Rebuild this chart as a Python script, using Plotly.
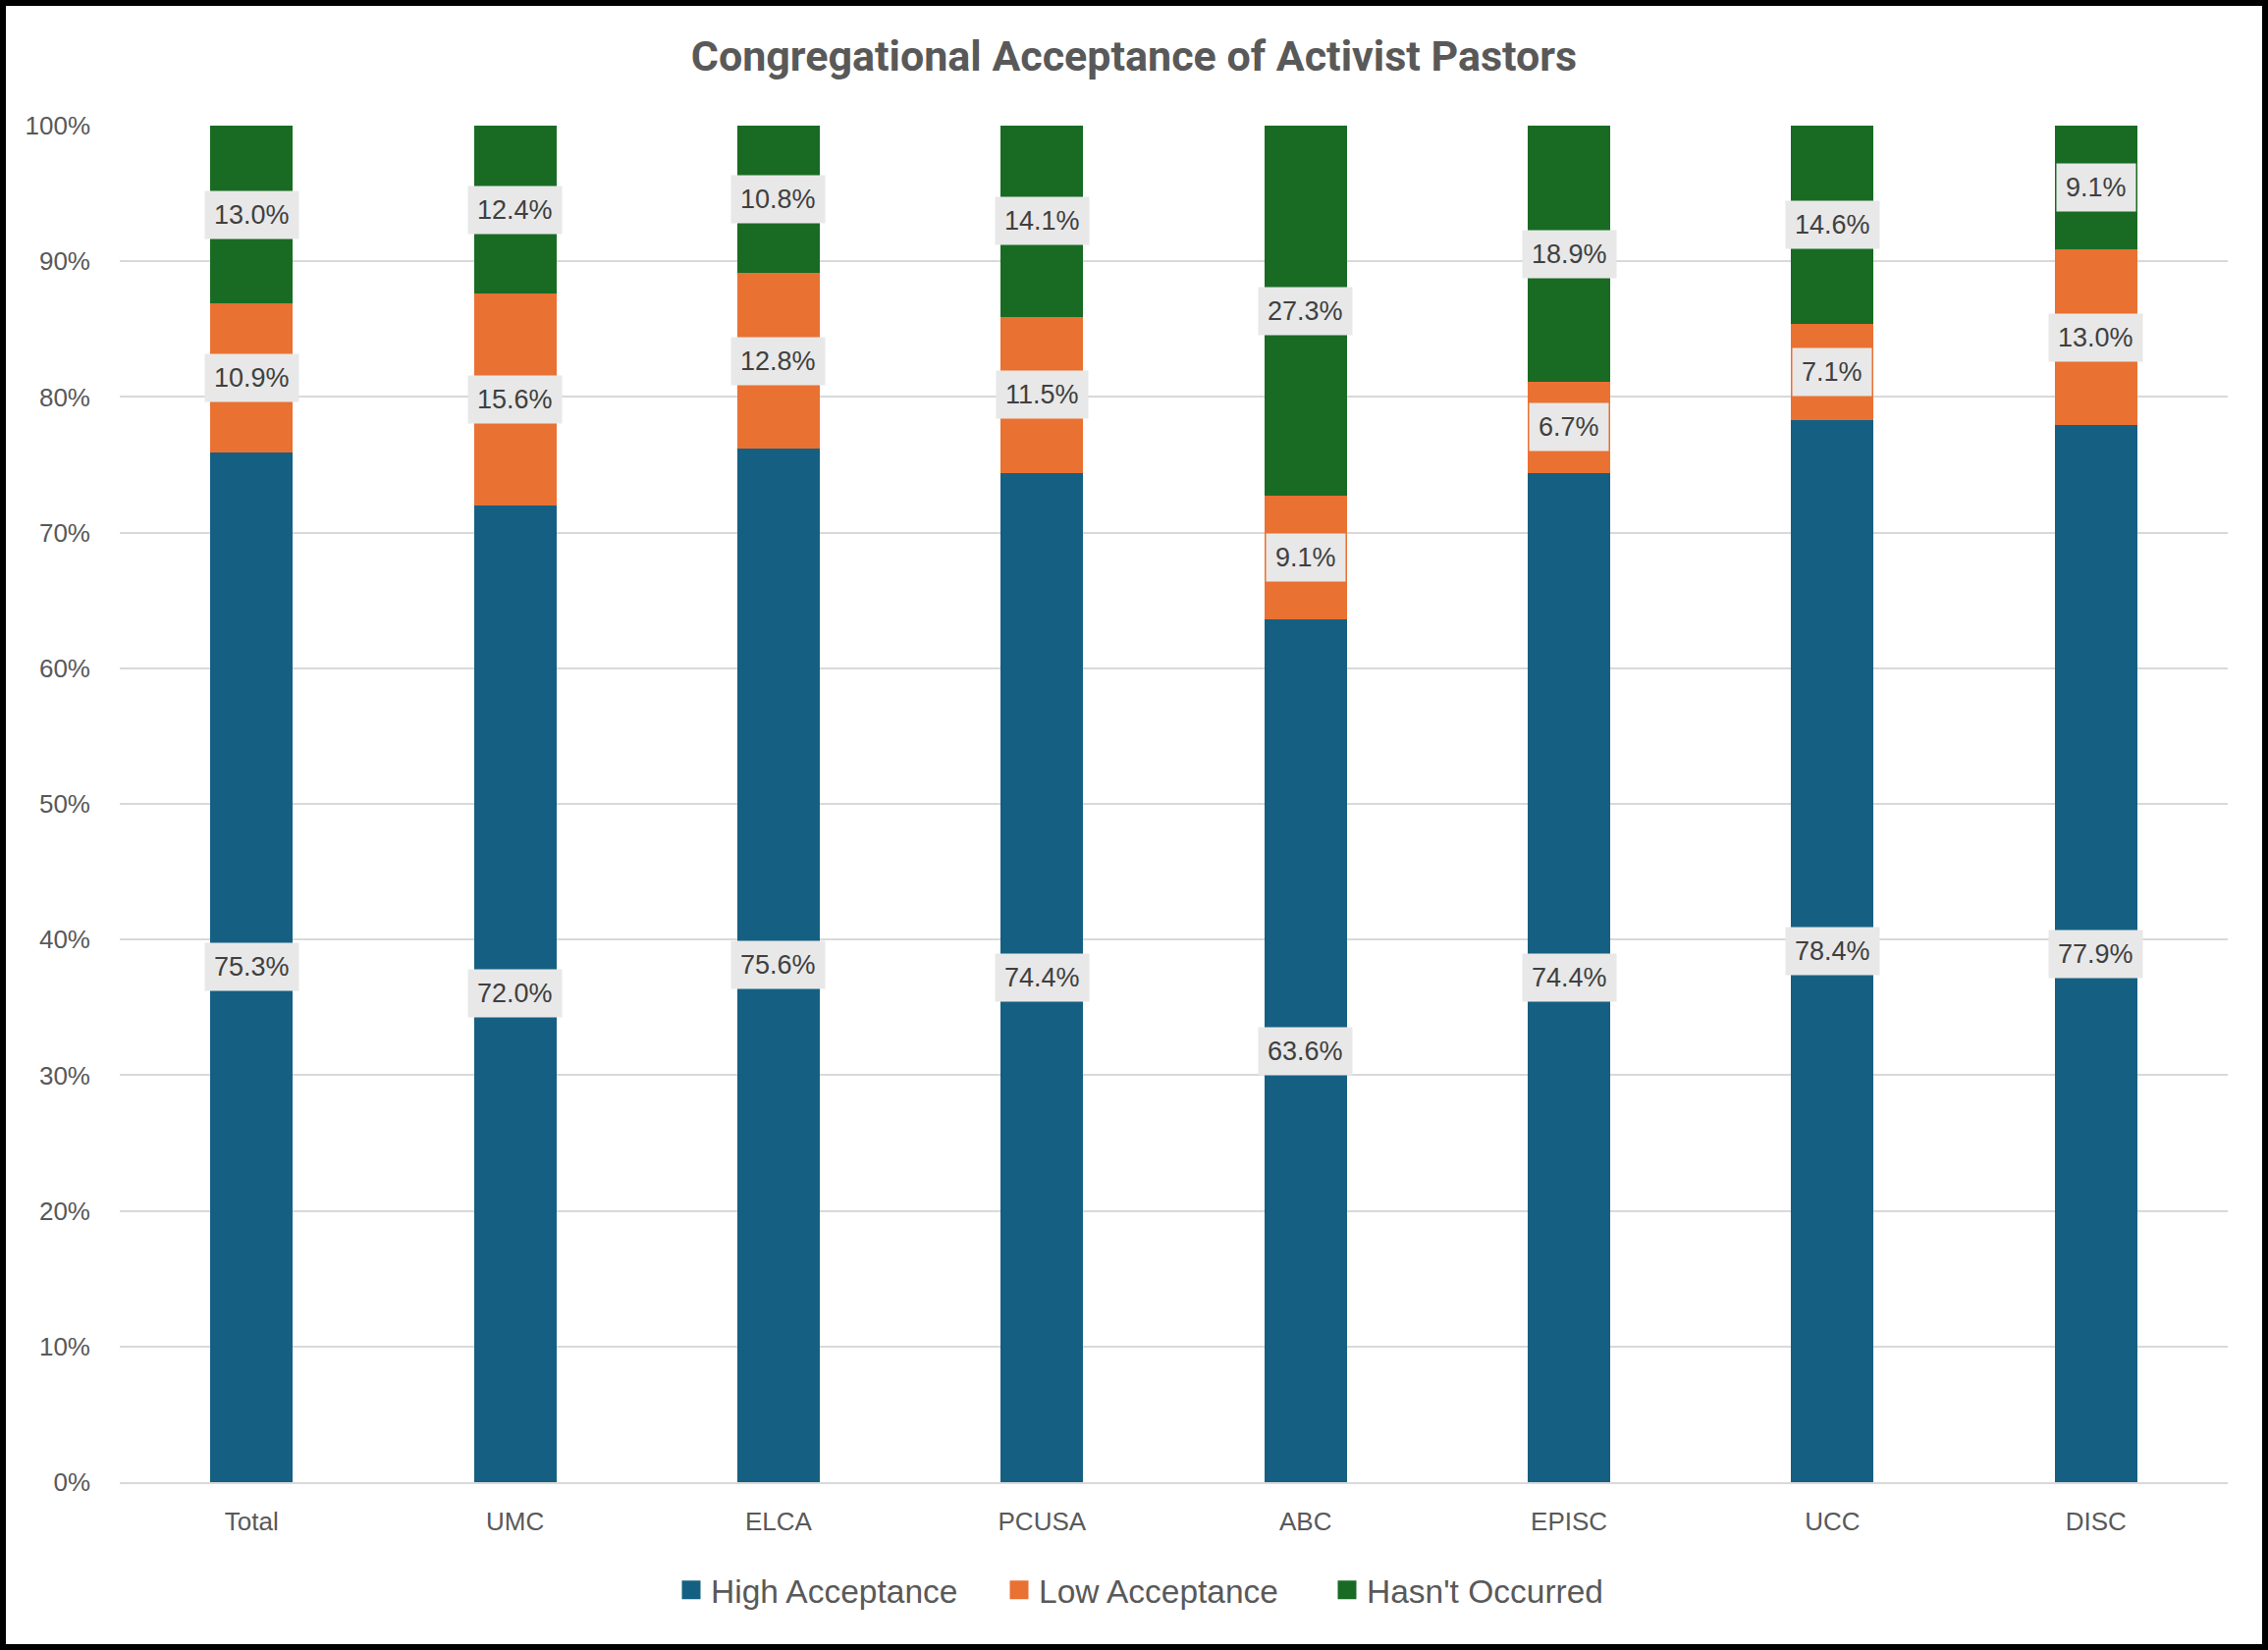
import plotly.graph_objects as go

categories = ["Total", "UMC", "ELCA", "PCUSA", "ABC", "EPISC", "UCC", "DISC"]
high_acceptance = [75.3, 72.0, 75.6, 74.4, 63.6, 74.4, 78.4, 77.9]
low_acceptance = [10.9, 15.6, 12.8, 11.5, 9.1, 6.7, 7.1, 13.0]
hasnt_occurred = [13.0, 12.4, 10.8, 14.1, 27.3, 18.9, 14.6, 9.1]
series_names = ["High Acceptance", "Low Acceptance", "Hasn't Occurred"]
series_colors = ["#156082", "#E97132", "#196B24"]
y_ticks = [0, 10, 20, 30, 40, 50, 60, 70, 80, 90, 100]
y_tick_labels = [f"{v}%" for v in y_ticks]

W, H = 2310, 1681
ML, MR, MT, MB = 122, 41, 128, 171
PW, PH = W - ML - MR, H - MT - MB

TXT = "#595959"
FONT = "Liberation Sans, Arial, sans-serif"

fig = go.Figure()
series = [high_acceptance, low_acceptance, hasnt_occurred]
for name, vals, col in zip(series_names, series, series_colors):
    fig.add_trace(go.Bar(x=categories, y=vals, name=name, marker=dict(color=col, line=dict(width=0)),
                         showlegend=False, hoverinfo="skip"))
# legend-only entries with larger square symbols
for name, col in zip(series_names, series_colors):
    fig.add_trace(go.Scatter(x=[None], y=[None], mode="markers", name=name,
                             marker=dict(symbol="square", size=16, color=col, line=dict(color=col, width=3))))

# boxed data labels at the middle of each normalised segment
for i, cat in enumerate(categories):
    vals = [s[i] for s in series]
    tot = sum(vals)
    cum = 0.0
    for v in vals:
        mid = (cum + v / 2) / tot * 100
        cum += v
        fig.add_annotation(x=cat, y=mid, text=f"{v:.1f}%", showarrow=False,
                           font=dict(family=FONT, size=27, color="#404040"),
                           bgcolor="#E8E8E8", borderpad=9)

fig.update_layout(
    width=W, height=H,
    margin=dict(l=ML, r=MR, t=MT, b=MB),
    paper_bgcolor="white", plot_bgcolor="white",
    barmode="stack", barnorm="percent", bargap=0.687,
    title=dict(text="<b>Congregational Acceptance of Activist Pastors</b>",
               x=0.5, xanchor="center", xref="container", y=1 - 57 / H, yanchor="middle", yref="container",
               font=dict(family="Roboto, sans-serif", size=43, color=TXT)),
    font=dict(family=FONT, color=TXT),
    legend=dict(orientation="h", traceorder="normal", x=(684 - ML) / PW, xanchor="left",
                y=-(1620 - (H - MB)) / PH, yanchor="middle",
                font=dict(family=FONT, size=33.5, color=TXT), entrywidth=289, bgcolor="rgba(0,0,0,0)"),
    xaxis=dict(showgrid=False, showline=True, linecolor="#D9D9D9", linewidth=2, ticks="",
               tickfont=dict(family=FONT, size=26, color=TXT), ticklabelstandoff=16),
    yaxis=dict(range=[0, 100], tickmode="array", tickvals=y_ticks, ticktext=y_tick_labels,
               showgrid=True, gridcolor="#D9D9D9",
               gridwidth=2, zeroline=False, showline=False, ticks="",
               tickfont=dict(family=FONT, size=26, color=TXT), ticklabelstandoff=29),
    showlegend=True,
)

# outer frame of the chart
fig.add_shape(type="rect", xref="paper", yref="paper",
              x0=(3 - ML) / PW, x1=(W - 3 - ML) / PW, y0=-(H - 3 - MT - PH) / PH, y1=(PH + MT - 3) / PH,
              line=dict(color="black", width=6), fillcolor="rgba(0,0,0,0)", layer="above")

fig.write_html("out.html", config={"displayModeBar": False},
               post_script="document.body.style.margin='0';document.body.style.overflow='hidden';")
